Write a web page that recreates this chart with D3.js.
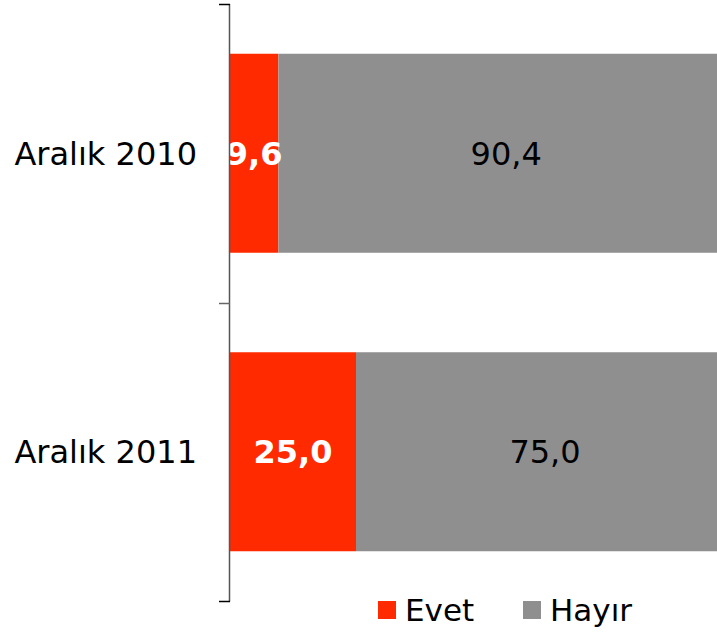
<!DOCTYPE html>
<html>
<head>
<meta charset="utf-8">
<script src="https://cdn.jsdelivr.net/npm/d3@7"></script>
<style>
  html, body { margin: 0; padding: 0; background: #fff; }
  svg { display: block; }
</style>
</head>
<body>
<svg id="chart" width="717" height="633"></svg>
<script>
const categories = ["Aralık 2010", "Aralık 2011"];
const evet = [9.6, 25.0];
const hayir = [90.4, 75.0];
const seriesNames = ["Evet", "Hayır"];
const seriesColors = ["#ff2a00", "#8f8f8f"];

const fmt = v => v.toFixed(1).replace(".", ",");
const FONT = "'DejaVu Sans', Verdana, sans-serif";

const svg = d3.select("#chart");

const y = d3.scaleBand()
  .domain(categories)
  .range([4, 601])
  .paddingInner(1 / 3)
  .paddingOuter(1 / 6);

const x = d3.scaleLinear().domain([0, 100]).range([230, 734]);

const rows = categories.map((c, i) => ({ cat: c, parts: [
  { key: 0, x0: 0, x1: evet[i], v: evet[i] },
  { key: 1, x0: evet[i], x1: evet[i] + hayir[i], v: hayir[i] }
]}));

const g = svg.append("g");
const rowG = g.selectAll("g.row").data(rows).join("g")
  .attr("class", "row")
  .attr("transform", d => `translate(0,${y(d.cat)})`);

rowG.selectAll("rect").data(d => d.parts).join("rect")
  .attr("x", d => x(d.x0))
  .attr("width", d => x(d.x1) - x(d.x0))
  .attr("y", 0)
  .attr("height", y.bandwidth())
  .attr("fill", d => seriesColors[d.key]);

rowG.selectAll("text").data(d => d.parts).join("text")
  .attr("x", d => (x(d.x0) + x(d.x1)) / 2)
  .attr("y", y.bandwidth() / 2)
  .attr("dy", "0.36em")
  .attr("text-anchor", "middle")
  .attr("font-family", FONT)
  .attr("font-size", 32)
  .attr("font-weight", d => d.key === 0 ? "bold" : "normal")
  .attr("fill", d => d.key === 0 ? "#fff" : "#000")
  .text(d => fmt(d.v));

// category axis
const edges = [y.range()[0], y(categories[1]) - y.step() * y.paddingInner() / 2, y.range()[1]];
svg.append("line")
  .attr("x1", x(0) - 0.5).attr("x2", x(0) - 0.5)
  .attr("y1", edges[0]).attr("y2", edges[2] + 0.5)
  .attr("stroke", "#555").attr("stroke-width", 1.5);
svg.selectAll("line.tick").data(edges).join("line")
  .attr("class", "tick")
  .attr("x1", x(0) - 11).attr("x2", x(0))
  .attr("y1", d => Math.round(d) + 0.5).attr("y2", d => Math.round(d) + 0.5)
  .attr("stroke", (d, i) => i === 1 ? "#666" : "#000")
  .attr("stroke-width", 1.5);

svg.selectAll("text.cat").data(categories).join("text")
  .attr("class", "cat")
  .attr("x", 197)
  .attr("y", d => y(d) + y.bandwidth() / 2)
  .attr("dy", "0.36em")
  .attr("text-anchor", "end")
  .attr("font-family", FONT)
  .attr("font-size", 32)
  .attr("fill", "#000")
  .text(d => d);

// legend
const legendX = [378, 523];
const leg = svg.selectAll("g.legend").data(seriesNames).join("g")
  .attr("class", "legend")
  .attr("transform", (d, i) => `translate(${legendX[i]},601)`);
leg.append("rect")
  .attr("width", 18).attr("height", 18)
  .attr("fill", (d, i) => seriesColors[i]);
leg.append("text")
  .attr("x", 27).attr("y", 9).attr("dy", "0.36em")
  .attr("font-family", FONT)
  .attr("font-size", 31)
  .attr("fill", "#000")
  .text(d => d);
</script>
</body>
</html>
